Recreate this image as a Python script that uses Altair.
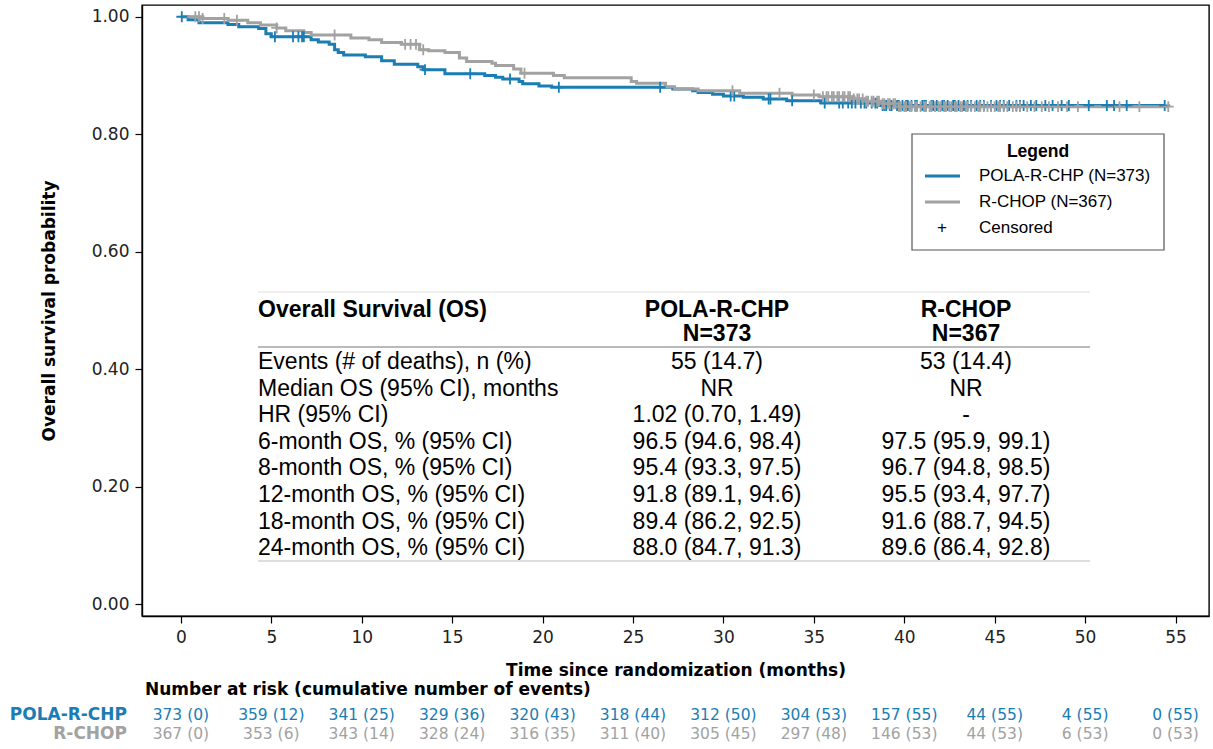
import altair as alt
import pandas as pd

BLUE = "#1a7db4"
GRAY = "#a2a2a2"

# Kaplan-Meier step points: event time (months) and survival after the step
pola_t = [0, 0.4, 1.0, 2.6, 3.2, 4.3, 4.7, 5.0, 7.2, 7.6, 8.2, 8.5, 8.7, 9.0,
          10.2, 11.1, 11.8, 13.1, 13.4, 14.6, 16.8, 17.4, 17.8, 18.7, 18.9,
          19.8, 20.5, 27.2, 28.3, 28.6, 29.4, 30.0, 31.1, 32.2, 33.5, 35.4, 38.6]
pola_s = [1.0, 0.995, 0.990, 0.987, 0.983, 0.980, 0.971, 0.966, 0.961, 0.957,
          0.953, 0.944, 0.939, 0.935, 0.932, 0.925, 0.919, 0.915, 0.910, 0.903,
          0.900, 0.897, 0.894, 0.890, 0.886, 0.882, 0.880, 0.877, 0.874, 0.871,
          0.868, 0.865, 0.863, 0.860, 0.857, 0.853, 0.849]
pola_end = 54.4
pola_cens = [0.05, 5.2, 6.2, 6.5, 6.7, 6.8, 13.5, 16.0, 18.2, 20.9, 26.5, 30.4,
             30.6, 32.5, 32.6, 33.8, 35.6, 36.4, 36.6, 36.9, 37.1, 37.3, 37.6,
             37.8, 37.9, 38.2, 38.4, 38.5, 38.8, 38.9, 39.0, 39.2, 39.3, 39.6,
             39.7, 39.9, 40.1, 40.2, 40.4, 40.6, 40.7, 41.0, 41.1, 41.2, 41.5,
             41.6, 41.8, 42.1, 42.2, 42.4, 42.7, 42.8, 43.0, 43.3, 43.5, 43.7,
             44.0, 44.2, 44.4, 44.8, 45.1, 45.3, 45.5, 45.8, 46.2, 46.4, 46.6,
             47.0, 47.3, 47.8, 48.2, 48.7, 49.1, 50.2, 51.2, 51.6, 52.3, 54.4]

rchop_t = [0, 1.2, 2.6, 3.7, 4.4, 5.3, 5.8, 6.8, 7.2, 9.4, 10.4, 11.1, 12.2,
           13.2, 13.7, 14.6, 15.4, 15.8, 17.2, 17.4, 18.4, 18.8, 20.6, 21.2,
           24.9, 25.2, 26.8, 27.3, 28.6, 30.9, 33.8, 35.3, 37.2, 37.8, 38.8, 39.6]
rchop_s = [1.0, 0.997, 0.994, 0.990, 0.986, 0.981, 0.976, 0.973, 0.969, 0.964,
           0.961, 0.956, 0.953, 0.944, 0.942, 0.939, 0.930, 0.924, 0.921, 0.917,
           0.911, 0.904, 0.900, 0.896, 0.890, 0.887, 0.881, 0.877, 0.874, 0.870,
           0.867, 0.864, 0.860, 0.856, 0.852, 0.847]
rchop_end = 54.6
rchop_cens = [0.8, 1.0, 1.2, 2.4, 3.1, 5.3, 8.5, 12.4, 12.7, 13.0, 13.4, 19.0,
              30.5, 33.1, 35.0, 35.5, 35.7, 35.8, 36.0, 36.1, 36.3, 36.4, 36.6,
              36.7, 36.9, 37.0, 37.2, 37.4, 37.5, 37.7, 37.9, 38.0, 38.2, 38.3,
              38.5, 38.6, 38.8, 38.9, 39.1, 39.2, 39.4, 39.5, 39.7, 39.8, 40.0,
              40.1, 40.3, 40.4, 40.6, 40.7, 40.9, 41.1, 41.2, 41.4, 41.5, 41.7,
              41.9, 42.0, 42.2, 42.3, 42.5, 42.6, 42.8, 42.9, 43.1, 43.2, 43.4,
              43.5, 43.7, 43.9, 44.1, 44.2, 44.4, 44.6, 44.8, 45.0, 45.2, 45.3,
              45.5, 45.7, 46.0, 46.2, 46.4, 46.8, 47.2, 47.6, 48.0, 48.5, 49.0,
              49.6, 51.9, 53.0, 54.6]

# Number at risk (cumulative events) at each x tick
risk_times = [0, 5, 10, 15, 20, 25, 30, 35, 40, 45, 50, 55]
pola_risk = ["373 (0)", "359 (12)", "341 (25)", "329 (36)", "320 (43)", "318 (44)",
             "312 (50)", "304 (53)", "157 (55)", "44 (55)", "4 (55)", "0 (55)"]
rchop_risk = ["367 (0)", "353 (6)", "343 (14)", "328 (24)", "316 (35)", "311 (40)",
              "305 (45)", "297 (48)", "146 (53)", "44 (53)", "6 (53)", "0 (53)"]

# Summary table
tbl_labels = ["Events (# of deaths), n (%)", "Median OS (95% CI), months",
              "HR (95% CI)", "6-month OS, % (95% CI)", "8-month OS, % (95% CI)",
              "12-month OS, % (95% CI)", "18-month OS, % (95% CI)",
              "24-month OS, % (95% CI)"]
tbl_pola = ["55 (14.7)", "NR", "1.02 (0.70, 1.49)", "96.5 (94.6, 98.4)",
            "95.4 (93.3, 97.5)", "91.8 (89.1, 94.6)", "89.4 (86.2, 92.5)",
            "88.0 (84.7, 91.3)"]
tbl_rchop = ["53 (14.4)", "NR", "-", "97.5 (95.9, 99.1)", "96.7 (94.8, 98.5)",
             "95.5 (93.4, 97.7)", "91.6 (88.7, 94.5)", "89.6 (86.4, 92.8)"]

# plot-area geometry (pixels)
W, H = 1067, 611
L, T = 142, 5


def surv_at(times, surv, x):
    s = surv[0]
    for t, v in zip(times, surv):
        if t <= x:
            s = v
    return s


line_rows = []
cens_rows = []
for arm, ts, ss, end, cens in [("R-CHOP", rchop_t, rchop_s, rchop_end, rchop_cens),
                               ("POLA-R-CHP", pola_t, pola_s, pola_end, pola_cens)]:
    for t, s in zip(ts, ss):
        line_rows.append({"arm": arm, "t": t, "s": s})
    line_rows.append({"arm": arm, "t": end, "s": ss[-1]})
    for c in cens:
        cens_rows.append({"arm": arm, "t": c, "s": surv_at(ts, ss, c)})
lines_df = pd.DataFrame(line_rows)
cens_df = pd.DataFrame(cens_rows)

xscale = alt.Scale(domain=[-2.15, 56.85], nice=False, zero=False)
yscale = alt.Scale(domain=[-0.02, 1.02], nice=False, zero=False)

x_axis = alt.Axis(values=list(range(0, 56, 5)), format="d",
                  title="Time since randomization (months)",
                  tickSize=7, labelPadding=6, titlePadding=17, grid=False)
y_axis = alt.Axis(values=[0, 0.2, 0.4, 0.6, 0.8, 1.0], format=".2f",
                  title="Overall survival probability",
                  tickSize=7, labelPadding=6, titlePadding=33, grid=False)

base_x = alt.X("t:Q", scale=xscale, axis=x_axis)
base_y = alt.Y("s:Q", scale=yscale, axis=y_axis)

layers = []
for arm in ["POLA-R-CHP", "R-CHOP"]:
    col = BLUE if arm == "POLA-R-CHP" else GRAY
    ln = alt.Chart(lines_df).transform_filter(alt.datum.arm == arm).mark_line(
        interpolate="step-after", strokeWidth=3, color=col
    ).encode(x=base_x, y=base_y, order="t:Q")
    layers.append(ln)
for arm in ["POLA-R-CHP", "R-CHOP"]:
    col = BLUE if arm == "POLA-R-CHP" else GRAY
    cz = alt.Chart(cens_df).transform_filter(alt.datum.arm == arm).mark_point(
        shape="M-1,0L1,0M0,-1L0,1", size=120, filled=False, strokeWidth=1.8,
        color=col, opacity=1
    ).encode(x="t:Q", y="s:Q")
    layers.append(cz)


def txt(text, x, y, align="left", bold=False, color="black", size=23,
        font="Liberation Sans"):
    return alt.Chart(pd.DataFrame({"k": [0]})).mark_text(
        text=text, font=font, fontSize=size, align=align, baseline="middle",
        fontWeight="bold" if bold else "normal", color=color
    ).encode(x=alt.value(x - L), y=alt.value(y - T))


# legend box
legend_box = alt.Chart(pd.DataFrame({"k": [0]})).mark_rect(
    fill="white", stroke="#555555", strokeWidth=1.2
).encode(x=alt.value(912 - L), x2=alt.value(1164 - L),
         y=alt.value(134 - T), y2=alt.value(250 - T))
layers += [legend_box, txt("Legend", 1038, 152, align="center", bold=True, size=17.5)]
for i, (name, col) in enumerate([("POLA-R-CHP (N=373)", BLUE), ("R-CHOP (N=367)", GRAY)]):
    yy = 176 + 26 * i
    layers.append(alt.Chart(pd.DataFrame({"k": [0]})).mark_rule(
        color=col, strokeWidth=3).encode(
        x=alt.value(925 - L), x2=alt.value(960 - L), y=alt.value(yy - T)))
    layers.append(txt(name, 979, yy, size=17))
layers.append(txt("+", 942, 228, align="center", size=17))
layers.append(txt("Censored", 979, 228, size=17))

# summary table
TX0, TX1 = 258 - L, 1090 - L
for yy, col in [(292, "#e0e0e0"), (347, "#777777"), (561, "#bbbbbb")]:
    layers.append(alt.Chart(pd.DataFrame({"k": [0]})).mark_rule(
        color=col, strokeWidth=1.2).encode(
        x=alt.value(TX0), x2=alt.value(TX1), y=alt.value(yy - T)))

layers.append(txt("Overall Survival (OS)", 258, 310, bold=True))
layers.append(txt("POLA-R-CHP", 717, 310, align="center", bold=True))
layers.append(txt("N=373", 717, 334, align="center", bold=True))
layers.append(txt("R-CHOP", 966, 310, align="center", bold=True))
layers.append(txt("N=367", 966, 334, align="center", bold=True))

tbl_df = pd.DataFrame({"i": list(range(len(tbl_labels))), "label": tbl_labels,
                       "pola": tbl_pola, "rchop": tbl_rchop})
ROW0, ROWH = 362 - T, 26.6
for field, xx, align in [("label", 258, "left"), ("pola", 717, "center"),
                         ("rchop", 966, "center")]:
    layers.append(alt.Chart(tbl_df).transform_calculate(
        py=f"{ROW0} + datum.i * {ROWH}"
    ).mark_text(font="Liberation Sans", fontSize=23, align=align,
                baseline="middle", color="black").encode(
        x=alt.value(xx - L), y=alt.Y("py:Q", scale=None), text=f"{field}:N"))

# number at risk table
risk_df = pd.DataFrame({"t": risk_times * 2, "txt": pola_risk + rchop_risk,
                        "arm": ["POLA-R-CHP"] * len(risk_times) + ["R-CHOP"] * len(risk_times)})
for arm, yy, col in [("POLA-R-CHP", 715, BLUE), ("R-CHOP", 734, GRAY)]:
    layers.append(alt.Chart(risk_df).transform_filter(alt.datum.arm == arm).mark_text(
        font="DejaVu Sans", fontSize=15.5, align="center", baseline="middle",
        color=col).encode(x="t:Q", y=alt.value(yy - T), text="txt:N"))
    layers.append(txt(arm, 127, yy, align="right", bold=True, color=col, size=17,
                      font="DejaVu Sans"))
layers.append(txt("Number at risk (cumulative number of events)", 145, 690,
                  bold=True, size=17, font="DejaVu Sans"))

chart = alt.layer(*layers).properties(
    width=W, height=H,
    padding={"left": L, "top": T, "right": 1213 - L - W, "bottom": 749 - T - H},
    autosize=alt.AutoSizeParams(type="none"),
).configure_view(
    stroke="black", strokeWidth=1.4
).configure_axis(
    labelFont="DejaVu Sans", labelFontSize=17, labelColor="#222222",
    titleFont="DejaVu Sans", titleFontSize=17, titleFontWeight="bold",
    titleColor="black", domainColor="black", tickColor="black", domainWidth=1.4,
    tickWidth=1.2
)

chart.save("out.html", embed_options={"renderer": "svg", "actions": False})
